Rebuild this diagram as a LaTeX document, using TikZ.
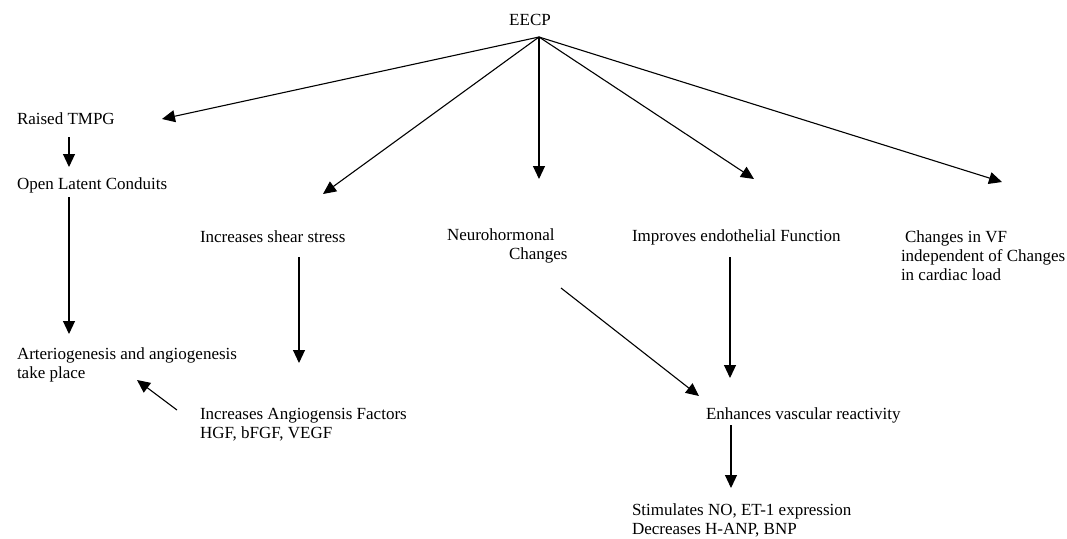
\documentclass[tikz,border=0pt]{standalone}
\usepackage{fontspec}
\setmainfont{Liberation Serif}
\usetikzlibrary{arrows.meta}
\tikzset{
  lbl/.style={inner sep=0pt, outer sep=0pt, anchor=base west, align=left, font=\fontsize{17}{19}\selectfont},
  arr/.style={line width=1.1pt, -{Triangle[length=13pt,width=12pt]}},
}
\begin{document}
\begin{tikzpicture}[x=1pt,y=-1pt]
\useasboundingbox[fill=white] (0,0) rectangle (1067,538);
% texts (multi-line nodes are placed by the baseline of their last line)
\node[lbl, anchor=base] (eecp) at (530,25) {EECP};
\node[lbl] (tmpg) at (17,124) {Raised TMPG};
\node[lbl] (olc) at (17,189) {Open Latent Conduits};
\node[lbl] (shear) at (200,242) {Increases shear stress};
\node[lbl] (neuro) at (447,259) {Neurohormonal\\\hspace*{62pt}Changes};
\node[lbl] (endo) at (632,241) {Improves endothelial Function};
\node[lbl] (vf) at (901,280) {\hspace*{4pt}Changes in VF\\independent of Changes\\in cardiac load};
\node[lbl] (arter) at (17,378.5) {Arteriogenesis and angiogenesis\\take place};
\node[lbl] (angio) at (200,438.5) {Increases Angiogensis Factors\\HGF, bFGF, VEGF};
\node[lbl] (vasc) at (706,419) {Enhances vascular reactivity};
\node[lbl] (stim) at (632,534) {Stimulates NO, ET-1 expression\\Decreases H-ANP, BNP};
% connector ends
\coordinate (apex) at (539,37);
\coordinate (tTmpg) at (162,119);
\coordinate (tShear) at (323,194);
\coordinate (tNeuro) at (539,179);
\coordinate (tEndo) at (754,179);
\coordinate (tVf) at (1002,182);
\coordinate (a1) at (69,137);
\coordinate (a2) at (69,167);
\coordinate (b1) at (69,197);
\coordinate (b2) at (69,334);
\coordinate (c1) at (299,257);
\coordinate (c2) at (299,363);
\coordinate (d1) at (177,410);
\coordinate (d2) at (137,380);
\coordinate (e1) at (561,288);
\coordinate (e2) at (699,396);
\coordinate (f1) at (730,257);
\coordinate (f2) at (730,378);
\coordinate (g1) at (731,425);
\coordinate (g2) at (731,488);
% connectors
\draw[arr] (apex) -- (tTmpg);
\draw[arr] (apex) -- (tShear);
\draw[arr] (apex) -- (tNeuro);
\draw[arr] (apex) -- (tEndo);
\draw[arr] (apex) -- (tVf);
\draw[arr] (a1) -- (a2);
\draw[arr] (b1) -- (b2);
\draw[arr] (c1) -- (c2);
\draw[arr] (d1) -- (d2);
\draw[arr] (e1) -- (e2);
\draw[arr] (f1) -- (f2);
\draw[arr] (g1) -- (g2);
\end{tikzpicture}
\end{document}
